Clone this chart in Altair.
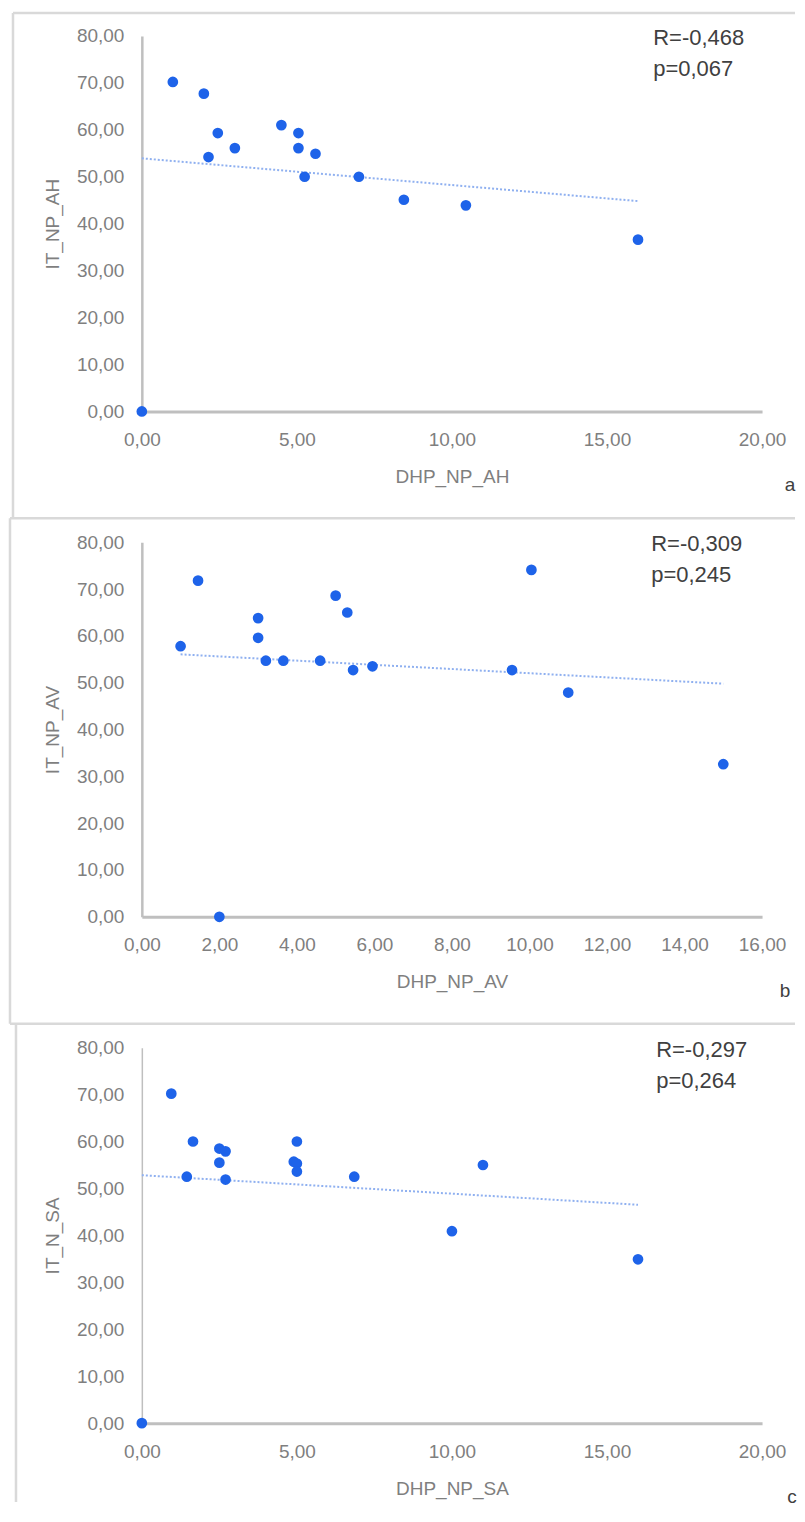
import altair as alt
import pandas as pd

# ---------------- data ----------------
a_x = [0.0, 1.0, 2.0, 2.45, 2.15, 3.0, 4.5, 5.05, 5.05, 5.6, 5.25, 7.0, 8.45, 10.45, 16.0]
a_y = [0.0, 70.2, 67.7, 59.3, 54.2, 56.1, 61.0, 59.3, 56.1, 54.9, 50.0, 50.0, 45.1, 43.9, 36.6]

b_x = [2.0, 1.0, 1.45, 3.0, 3.0, 3.2, 3.65, 4.6, 5.0, 5.3, 5.45, 5.95, 9.55, 10.05, 11.0, 15.0]
b_y = [0.0, 57.8, 71.8, 63.8, 59.6, 54.7, 54.7, 54.7, 68.6, 65.0, 52.7, 53.5, 52.7, 74.1, 47.9, 32.6]

c_x = [0.0, 0.95, 1.65, 2.5, 2.7, 2.5, 1.45, 2.7, 5.0, 4.9, 5.0, 5.0, 6.85, 11.0, 10.0, 16.0]
c_y = [0.0, 70.2, 60.0, 58.5, 57.9, 55.5, 52.5, 51.9, 60.0, 55.7, 55.3, 53.6, 52.5, 55.0, 40.9, 34.9]

y_ticks = [0, 10, 20, 30, 40, 50, 60, 70, 80]
a_xticks = [0, 5, 10, 15, 20]
b_xticks = [0, 2, 4, 6, 8, 10, 12, 14, 16]
c_xticks = [0, 5, 10, 15, 20]

titles = {
    "a": ("DHP_NP_AH", "IT_NP_AH", "R=-0,468", "p=0,067"),
    "b": ("DHP_NP_AV", "IT_NP_AV", "R=-0,309", "p=0,245"),
    "c": ("DHP_NP_SA", "IT_N_SA", "R=-0,297", "p=0,264"),
}

# ---------------- styling ----------------
FONT = "Liberation Sans"
BLUE = "#1e63e9"
TREND = "#8fb0f0"
GRAY_TXT = "#7f7f7f"
DARK_TXT = "#404040"
AXIS_COL = "#bfbfbf"
BORDER = "#d9d9d9"
W = 621
LABEL_EXPR = "replace(format(datum.value, '.2f'), '.', ',')"

one = pd.DataFrame({"k": [0]})
NOVIEW = alt.ViewBackground(stroke="transparent", strokeWidth=0)


def panel(xs, ys, xdom, xticks, key, H, rx, letter_x, ydomain_width=2.5):
    xtitle, ytitle, r_txt, p_txt = titles[key]
    df = pd.DataFrame({"x": xs, "y": ys})
    base = alt.Chart(df)
    xenc = alt.X(
        "x:Q",
        scale=alt.Scale(domain=xdom, nice=False, zero=True),
        axis=alt.Axis(
            values=xticks, title=xtitle, labelExpr=LABEL_EXPR, grid=False,
            ticks=False, tickSize=0, domainColor=AXIS_COL, domainWidth=3,
            labelFlush=False, labelOverlap=False,
            labelColor=GRAY_TXT, labelFont=FONT, labelFontSize=19, labelPadding=19,
            titleFont=FONT, titleFontSize=19, titleColor=GRAY_TXT,
            titleFontWeight="normal", titleX=W / 2, titleY=65,
            titleBaseline="middle", titleAlign="center",
        ),
    )
    yenc = alt.Y(
        "y:Q",
        scale=alt.Scale(domain=[0, 80], nice=False, zero=True),
        axis=alt.Axis(
            values=y_ticks, title=ytitle, labelExpr=LABEL_EXPR, grid=False,
            ticks=False, tickSize=0, domainColor=AXIS_COL, domainWidth=ydomain_width,
            labelFlush=False, labelOverlap=False,
            labelColor=GRAY_TXT, labelFont=FONT, labelFontSize=19, labelPadding=18,
            titleFont=FONT, titleFontSize=19, titleColor=GRAY_TXT,
            titleFontWeight="normal", titleX=-89, titleY=H / 2, titleAngle=270,
            titleBaseline="middle", titleAlign="center",
        ),
    )
    pts = base.mark_circle(size=115, color=BLUE, opacity=1).encode(x=xenc, y=yenc)
    trend = base.transform_regression("x", "y").mark_line(
        color=TREND, strokeDash=[2, 2], strokeWidth=2
    ).encode(x="x:Q", y="y:Q")
    txt_style = dict(font=FONT, fontSize=22, color=DARK_TXT, align="left", baseline="alphabetic")
    r = alt.Chart(one).mark_text(**txt_style).encode(
        x=alt.value(rx), y=alt.value(9), text=alt.value(r_txt))
    p = alt.Chart(one).mark_text(**txt_style).encode(
        x=alt.value(rx), y=alt.value(40), text=alt.value(p_txt))
    let = alt.Chart(one).mark_text(font=FONT, fontSize=19, color=DARK_TXT,
                                   align="center", baseline="middle").encode(
        x=alt.value(letter_x), y=alt.value(H + 74), text=alt.value(key))
    return [trend, pts, r, p, let]


def hline(y, x1, x2):
    return alt.Chart(one).mark_rule(color=BORDER, strokeWidth=2.5).encode(
        x=alt.value(x1), x2=alt.value(x2), y=alt.value(y))


def vline(x, y1, y2):
    return alt.Chart(one).mark_rule(color=BORDER, strokeWidth=2.5).encode(
        x=alt.value(x), y=alt.value(y1), y2=alt.value(y2))


HA, HB, HC = 376, 375, 376
RIGHT = 654
A_L, B_L, C_L = -129, -132, -126
borders = [
    hline(-23, A_L, RIGHT), vline(A_L, -23, 483),
    hline(483, B_L, RIGHT), vline(B_L, 483, 989),
    hline(989, B_L, RIGHT), vline(C_L, 989, 1468),
]

pa = alt.layer(*borders, *panel(a_x, a_y, [0, 20], a_xticks, "a", HA, 512, 649)).properties(
    width=W, height=HA, view=NOVIEW)
pb = alt.layer(*panel(b_x, b_y, [0, 16], b_xticks, "b", HB, 510, 644)).properties(
    width=W, height=HB, view=NOVIEW)
pc = alt.layer(*panel(c_x, c_y, [0, 20], c_xticks, "c", HC, 515, 651, ydomain_width=1.5)).properties(
    width=W, height=HC, view=NOVIEW)

chart = alt.vconcat(pa, pb, pc, spacing=131, bounds="flush").properties(
    padding={"left": 0, "top": 2, "right": 0, "bottom": 0}
).configure_view(strokeOpacity=0, strokeWidth=0).configure(background="white")

chart.save("out.html", embed_options={"renderer": "svg", "actions": False})
